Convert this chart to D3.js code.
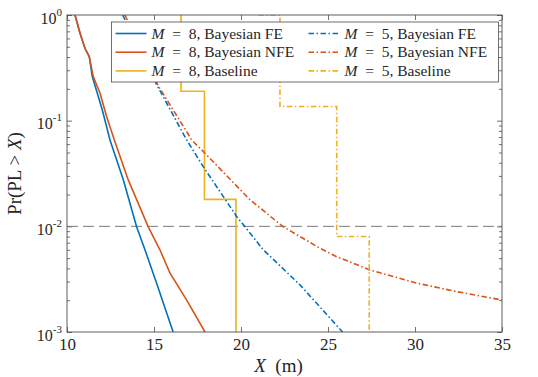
<!DOCTYPE html>
<html>
<head>
<meta charset="utf-8">
<script src="https://cdn.jsdelivr.net/npm/d3@7"></script>
<style>
  html, body { margin: 0; padding: 0; background: #fff; }
  #graph { width: 538px; height: 377px; }
  svg text { font-family: "Liberation Serif", "DejaVu Serif", serif; fill: #262626; white-space: pre; }
</style>
</head>
<body>
<div id="graph"></div>
<script>
// M = 8, Bayesian FE
var xFE8 = [10.46, 10.75, 11.03, 11.28, 11.45, 12.03, 12.47, 13.24, 14.0, 14.48, 15.15, 16.1];
var pFE8 = [1, 0.671, 0.484, 0.404, 0.263, 0.126, 0.0656, 0.0275, 0.0099, 0.0060, 0.0029, 0.001];
// M = 8, Bayesian NFE
var xNFE8 = [10.46, 10.75, 11.03, 11.28, 11.51, 11.90, 12.28, 12.72, 13.52, 14.67, 15.34, 15.92, 16.88, 17.93];
var pNFE8 = [1, 0.671, 0.484, 0.404, 0.261, 0.182, 0.109, 0.0656, 0.0275, 0.0099, 0.0060, 0.0036, 0.0020, 0.001];
// M = 8, Baseline (step)
var xBase8 = [16.55, 16.55, 17.9, 17.9, 19.71, 19.71];
var pBase8 = [1, 0.19, 0.19, 0.018, 0.018, 0.0001];
// M = 5, Bayesian FE
var xFE5 = [13.2, 15.16, 16.88, 17.83, 19.75, 20.23, 21.28, 23.39, 25.84];
var pFE5 = [1, 0.218, 0.0656, 0.0367, 0.0124, 0.0099, 0.0060, 0.00279, 0.001];
// M = 5, Bayesian NFE
var xNFE5 = [13.33, 15.25, 17.17, 17.93, 20.52, 22.43, 24.54, 25.5, 27.41, 30.1, 32.4, 35];
var pNFE5 = [1, 0.213, 0.0656, 0.0492, 0.0178, 0.0099, 0.0062, 0.00516, 0.00387, 0.0029, 0.00241, 0.00201];
// M = 5, Baseline (step)
var xBase5 = [21.0, 22.24, 22.24, 25.5, 25.5, 27.37, 27.37];
var pBase5 = [1, 1, 0.136, 0.136, 0.008, 0.008, 0.0001];

// integrity threshold
var threshold = 0.01;

// axis ticks
var xTicks = [10, 15, 20, 25, 30, 35];
var yTicks = [1e-3, 1e-2, 1e-1, 1];
var yExponents = ["-3", "-2", "-1", "0"];

var width = 538, height = 377;
var margin = { top: 15, left: 67, bottom: 45, right: 36 };
var chartWidth = width - margin.left - margin.right;
var chartHeight = height - margin.top - margin.bottom;

var blue = "#0072BD", orange = "#D95319", yellow = "#EDB120";
var dashDot = "5.5,2.5,1.5,2.5";

var series = [
  { x: xFE8, p: pFE8, color: blue, dash: null, m: "8", name: "Bayesian FE" },
  { x: xNFE8, p: pNFE8, color: orange, dash: null, m: "8", name: "Bayesian NFE" },
  { x: xBase8, p: pBase8, color: yellow, dash: null, m: "8", name: "Baseline" },
  { x: xFE5, p: pFE5, color: blue, dash: dashDot, m: "5", name: "Bayesian FE" },
  { x: xNFE5, p: pNFE5, color: orange, dash: dashDot, m: "5", name: "Bayesian NFE" },
  { x: xBase5, p: pBase5, color: yellow, dash: dashDot, m: "5", name: "Baseline" }
];

var svg = d3.select("#graph").append("svg")
  .attr("width", width).attr("height", height)
  .attr("font-family", "Liberation Serif");

var xScale = d3.scaleLinear().domain([10, 35]).range([0, chartWidth]);
var yScale = d3.scaleLog().domain([1e-3, 1]).range([chartHeight, 0]);

var chartLayer = svg.append("g")
  .attr("transform", "translate(" + [margin.left, margin.top] + ")");

svg.append("defs").append("clipPath").attr("id", "clip")
  .append("rect").attr("width", chartWidth).attr("height", chartHeight);

// minor ticks for the log axis
var minorTicks = [];
[1e-3, 1e-2, 1e-1].forEach(function(d) {
  for (var k = 2; k <= 9; k++) minorTicks.push(d * k);
});

function styleAxis(g) {
  g.attr("font-family", null).attr("font-size", null);
  g.select(".domain").remove();
  g.selectAll(".tick line").attr("stroke", "#4d4d4d").attr("stroke-width", 0.8);
}

// bottom / top x axis
chartLayer.append("g")
  .attr("transform", "translate(0," + chartHeight + ")")
  .call(d3.axisBottom(xScale).tickValues(xTicks).tickSize(-5).tickPadding(6).tickFormat(d3.format("d")))
  .call(styleAxis)
  .selectAll("text").attr("font-size", 17).attr("fill", "#262626").attr("dy", "0.71em");
chartLayer.append("g")
  .call(d3.axisTop(xScale).tickValues(xTicks).tickSize(-5).tickFormat(""))
  .call(styleAxis);

// left / right y axis
var yAxisG = chartLayer.append("g")
  .call(d3.axisLeft(yScale).tickValues(yTicks).tickSize(-5).tickPadding(4).tickFormat(""))
  .call(styleAxis);
chartLayer.append("g")
  .call(d3.axisLeft(yScale).tickValues(minorTicks).tickSize(-3).tickFormat(""))
  .call(styleAxis);
chartLayer.append("g")
  .attr("transform", "translate(" + chartWidth + ",0)")
  .call(d3.axisRight(yScale).tickValues(yTicks).tickSize(-5).tickFormat(""))
  .call(styleAxis);
chartLayer.append("g")
  .attr("transform", "translate(" + chartWidth + ",0)")
  .call(d3.axisRight(yScale).tickValues(minorTicks).tickSize(-3).tickFormat(""))
  .call(styleAxis);

// 10^n labels with superscript
yAxisG.selectAll(".tick").each(function(d) {
  var t = d3.select(this).append("text")
    .attr("x", -5).attr("y", 8)
    .attr("text-anchor", "end")
    .attr("font-size", 16);
  t.append("tspan").text("10");
  t.append("tspan").attr("dy", -8).attr("font-size", 11).text(yExponents[yTicks.indexOf(d)]);
});

// threshold line
chartLayer.append("line")
  .attr("x1", 0).attr("x2", chartWidth)
  .attr("y1", yScale(threshold)).attr("y2", yScale(threshold))
  .attr("stroke", "#7a7a7a").attr("stroke-width", 1)
  .attr("stroke-dasharray", "11,5");

// curves
var line = d3.line()
  .x(function(d) { return xScale(d[0]); })
  .y(function(d) { return yScale(d[1]); });

var curves = chartLayer.append("g").attr("clip-path", "url(#clip)");
series.forEach(function(s) {
  curves.append("path")
    .datum(d3.zip(s.x, s.p))
    .attr("d", line)
    .attr("fill", "none")
    .attr("stroke", s.color)
    .attr("stroke-width", 1.6)
    .attr("stroke-dasharray", s.dash);
});

// frame
chartLayer.append("rect")
  .attr("width", chartWidth).attr("height", chartHeight)
  .attr("fill", "none").attr("stroke", "#4d4d4d").attr("stroke-width", 0.9);

// legend
var legend = svg.append("g").attr("transform", "translate(111.5,22)");
legend.append("rect")
  .attr("width", 387).attr("height", 60)
  .attr("fill", "#fff").attr("stroke", "#4d4d4d").attr("stroke-width", 0.8);

series.forEach(function(s, i) {
  var col = Math.floor(i / 3), row = i % 3;
  var g = legend.append("g")
    .attr("transform", "translate(" + [4 + col * 193, 11.5 + row * 18.7] + ")");
  g.append("line")
    .attr("x1", 0).attr("x2", 31)
    .attr("stroke", s.color).attr("stroke-width", 1.6)
    .attr("stroke-dasharray", s.dash);
  var t = g.append("text").attr("x", 36).attr("y", 5).attr("font-size", 15.5);
  t.append("tspan").attr("font-style", "italic").text("M");
  t.append("tspan").text("  =  " + s.m + ", " + s.name);
});

// axis labels
var xLabel = svg.append("text")
  .attr("x", margin.left + chartWidth / 2 - 6).attr("y", 372)
  .attr("text-anchor", "middle").attr("font-size", 19);
xLabel.append("tspan").attr("font-style", "italic").text("X");
xLabel.append("tspan").text("  (m)");

var yLabel = svg.append("text")
  .attr("transform", "translate(21," + (margin.top + chartHeight / 2) + ") rotate(-90)")
  .attr("text-anchor", "middle").attr("font-size", 19);
yLabel.append("tspan").text("Pr(PL > ");
yLabel.append("tspan").attr("font-style", "italic").text("X");
yLabel.append("tspan").text(")");
</script>
</body>
</html>
